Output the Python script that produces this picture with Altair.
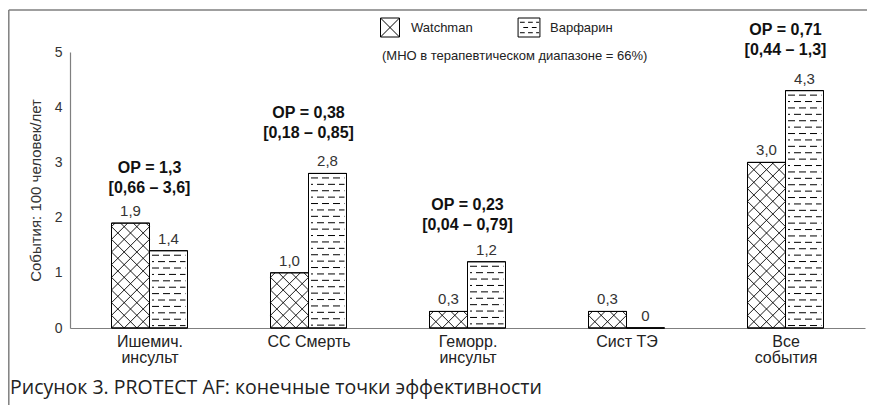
import math
import altair as alt
import pandas as pd

# ---------------- data ----------------
categories = [["Ишемич.", "инсульт"], ["СС Смерть"], ["Геморр.", "инсульт"], ["Сист ТЭ"], ["Все", "события"]]
series = ["Watchman", "Варфарин"]
watchman = [1.9, 1.0, 0.3, 0.3, 3.0]
warfarin = [1.4, 2.8, 1.2, 0.0, 4.3]
or_labels = ["ОР = 1,3", "ОР = 0,38", "ОР = 0,23", "", "ОР = 0,71"]
ci_labels = ["[0,66 – 3,6]", "[0,18 – 0,85]", "[0,04 – 0,79]", "", "[0,44 – 1,3]"]
y_ticks = [0, 1, 2, 3, 4, 5]
y_title = "События: 100 человек/лет"
note = "(МНО в терапевтическом диапазоне = 66%)"
caption = "Рисунок 3. PROTECT AF: конечные точки эффективности"

# ---------------- layout ----------------
W, H = 795, 276
PAD = {"left": 62, "top": 44, "right": 2, "bottom": 77}
XDOM = [-0.5, len(categories) - 0.5]
YDOM = [0, 5]
PXX = W / (XDOM[1] - XDOM[0])
PXY = H / (YDOM[1] - YDOM[0])
BW_PX = 38.0
BW = BW_PX / PXX
FONT = "Liberation Sans"
GRAY = "#7f7f7f"
ANN_GAP_PX = [35, 40, 37, 0, 41]   # gap between bar top and the CI line, per group (layout only)

rows = []
for i in range(len(categories)):
    for s, vals in zip(series, [watchman, warfarin]):
        x0 = i - BW if s == series[0] else i
        rows.append(dict(cat=i, series=s, value=vals[i], x0=x0, x1=x0 + BW, xc=x0 + BW / 2))
bars = pd.DataFrame(rows)

# cross hatch (Watchman) and dashed rows (Варфарин), derived from the bar values
cross, dash_even, dash_odd = [], [], []
for r in rows:
    Wp, Hp = BW_PX, r["value"] * PXY
    if Hp <= 0:
        continue
    if r["series"] == series[0]:
        c = Wp / 3
        for k in range(math.floor(-Hp / c) - 1, math.ceil(Wp / c) + 2):
            d = k * c
            lo, hi = max(0, d), min(Wp, Hp + d)
            if hi - lo > 0.3:
                cross.append(dict(xa=r["x0"] + lo / PXX, xb=r["x0"] + hi / PXX, ya=(lo - d) / PXY, yb=(hi - d) / PXY))
        for k in range(0, math.ceil((Wp + Hp) / c) + 2):
            s_ = k * c
            lo, hi = max(0, s_ - Hp), min(Wp, s_)
            if hi - lo > 0.3:
                cross.append(dict(xa=r["x0"] + lo / PXX, xb=r["x0"] + hi / PXX, ya=(s_ - lo) / PXY, yb=(s_ - hi) / PXY))
    else:
        v = Hp - 4.5
        j = 0
        while v > 1.5:
            seg = dict(xa=r["x0"] + 2.5 / PXX, xb=r["x1"] - 2 / PXX, ya=v / PXY)
            (dash_even if j % 2 == 0 else dash_odd).append(seg)
            v -= 6.4
            j += 1
cross = pd.DataFrame(cross)
dash_even = pd.DataFrame(dash_even)
dash_odd = pd.DataFrame(dash_odd)

ann = pd.DataFrame(dict(cat=list(range(len(categories))),
                        top=[max(a, b) for a, b in zip(watchman, warfarin)],
                        gap=ANN_GAP_PX, orl=or_labels, ci=ci_labels))
ann = ann[ann["orl"] != ""]

label_js = "[" + ",".join("[" + ",".join("'" + s + "'" for s in lines) + "]" for lines in categories) + "][datum.value]"

xscale = alt.Scale(domain=XDOM, nice=False, zero=False)
yscale = alt.Scale(domain=YDOM, nice=False, zero=True)
xaxis = alt.Axis(values=list(range(len(categories))), labelExpr=label_js, ticks=False, grid=False,
                 domainColor=GRAY, domainWidth=1.2, labelFont=FONT, labelFontSize=16, labelColor="#222",
                 labelPadding=5, labelLineHeight=16, labelOverlap=False, labelFlush=False, title=None)
yaxis = alt.Axis(values=y_ticks, ticks=False, grid=False, domainColor=GRAY, domainWidth=1.2,
                 labelFont=FONT, labelFontSize=14, labelColor="#333", labelPadding=8,
                 title=y_title, titleFont=FONT, titleFontSize=15, titleFontWeight="normal",
                 titleColor="#333", titlePadding=11)

base = alt.Chart(bars)
bar_layer = base.mark_rect(fill="white", stroke="black", strokeWidth=1).encode(
    x=alt.X("x0:Q", scale=xscale, axis=xaxis),
    x2="x1:Q",
    y=alt.Y("value:Q", scale=yscale, axis=yaxis),
    y2=alt.datum(0),
)

cross_layer = alt.Chart(cross).mark_rule(color="black", strokeWidth=0.9).encode(
    x=alt.X("xa:Q", scale=xscale), x2="xb:Q", y=alt.Y("ya:Q", scale=yscale), y2="yb:Q")
dash1 = alt.Chart(dash_even).mark_rule(color="black", strokeWidth=1, strokeDash=[7, 4], strokeDashOffset=0).encode(
    x=alt.X("xa:Q", scale=xscale), x2="xb:Q", y=alt.Y("ya:Q", scale=yscale))
dash2 = alt.Chart(dash_odd).mark_rule(color="black", strokeWidth=1, strokeDash=[7, 4], strokeDashOffset=5).encode(
    x=alt.X("xa:Q", scale=xscale), x2="xb:Q", y=alt.Y("ya:Q", scale=yscale))

outline = base.mark_rect(fill=None, stroke="black", strokeWidth=1).encode(
    x=alt.X("x0:Q", scale=xscale), x2="x1:Q", y=alt.Y("value:Q", scale=yscale), y2=alt.datum(0))

values_layer = base.mark_text(font=FONT, fontSize=15, color="#333", baseline="middle", dy=-12).transform_calculate(
    lab="datum.value == 0 ? '0' : replace(format(datum.value, '.1f'), '.', ',')"
).encode(x=alt.X("xc:Q", scale=xscale), y=alt.Y("value:Q", scale=yscale), text="lab:N")

ann_base = alt.Chart(ann).transform_calculate(ypos=f"datum.top + datum.gap / {PXY}")
or_layer = ann_base.mark_text(font=FONT, fontSize=16, fontWeight="bold", color="#111", baseline="middle", dy=-20).encode(
    x=alt.X("cat:Q", scale=xscale), y=alt.Y("ypos:Q", scale=yscale), text="orl:N")
ci_layer = ann_base.mark_text(font=FONT, fontSize=16, fontWeight="bold", color="#111", baseline="middle").encode(
    x=alt.X("cat:Q", scale=xscale), y=alt.Y("ypos:Q", scale=yscale), text="ci:N")

# ---------------- legend (drawn by hand, above the plot) ----------------
path_w = "M-1,-1L1,-1L1,1L-1,1Z M-1,-1L1,1 M1,-1L-1,1"
path_f = ("M-1.15,-1L1.15,-1L1.15,1L-1.15,1Z "
          "M-0.95,-0.55L-0.45,-0.55 M-0.1,-0.55L0.4,-0.55 M0.75,-0.55L1.05,-0.55 "
          "M-0.6,0L-0.1,0 M0.3,0L0.8,0 "
          "M-0.95,0.55L-0.45,0.55 M-0.1,0.55L0.4,0.55 M0.75,0.55L1.05,0.55")
LEG_Y = -24.5
sym_w = alt.Chart(pd.DataFrame({"s": [series[0]]})).mark_point(
    shape=path_w, size=361, filled=True, fill="white", stroke="black", strokeWidth=1, opacity=1).encode(
    x=alt.value(320), y=alt.value(LEG_Y))
sym_f = alt.Chart(pd.DataFrame({"s": [series[1]]})).mark_point(
    shape=path_f, size=361, filled=True, fill="white", stroke="black", strokeWidth=1, opacity=1).encode(
    x=alt.value(459), y=alt.value(LEG_Y))
lab_w = alt.Chart(pd.DataFrame({"s": [series[0]]})).mark_text(
    font=FONT, fontSize=13, color="#222", align="left", baseline="middle").encode(
    x=alt.value(341), y=alt.value(LEG_Y), text="s:N")
lab_f = alt.Chart(pd.DataFrame({"s": [series[1]]})).mark_text(
    font=FONT, fontSize=13, color="#222", align="left", baseline="middle").encode(
    x=alt.value(480), y=alt.value(LEG_Y), text="s:N")

note_layer = alt.Chart(pd.DataFrame({"t": [note]})).mark_text(
    font=FONT, fontSize=13, color="#222", align="left", baseline="middle").encode(
    x=alt.value(312), y=alt.value(4), text="t:N")
caption_layer = alt.Chart(pd.DataFrame({"t": [caption]})).mark_text(
    font="Open Sans", fontSize=19.5, color="#222", align="left", baseline="middle").encode(
    x=alt.value(-60), y=alt.value(336), text="t:N")

frame_top = alt.Chart(pd.DataFrame({"a": [0]})).mark_rule(color=GRAY, strokeWidth=1.5).encode(
    x=alt.value(-61.2), x2=alt.value(W + PAD["right"]), y=alt.value(-42))
frame_left = alt.Chart(pd.DataFrame({"a": [0]})).mark_rule(color=GRAY, strokeWidth=1.5).encode(
    x=alt.value(-61.2), y=alt.value(-42), y2=alt.value(H + PAD["bottom"]))

chart = alt.layer(
    bar_layer, cross_layer, dash1, dash2, outline, values_layer, or_layer, ci_layer,
    sym_w, sym_f, lab_w, lab_f, note_layer, caption_layer, frame_top, frame_left
).properties(
    width=W, height=H, padding=PAD, autosize=alt.AutoSizeParams(type="none")
).configure_view(stroke=None)

chart.save("out.html", embed_options={"renderer": "svg", "actions": False})
